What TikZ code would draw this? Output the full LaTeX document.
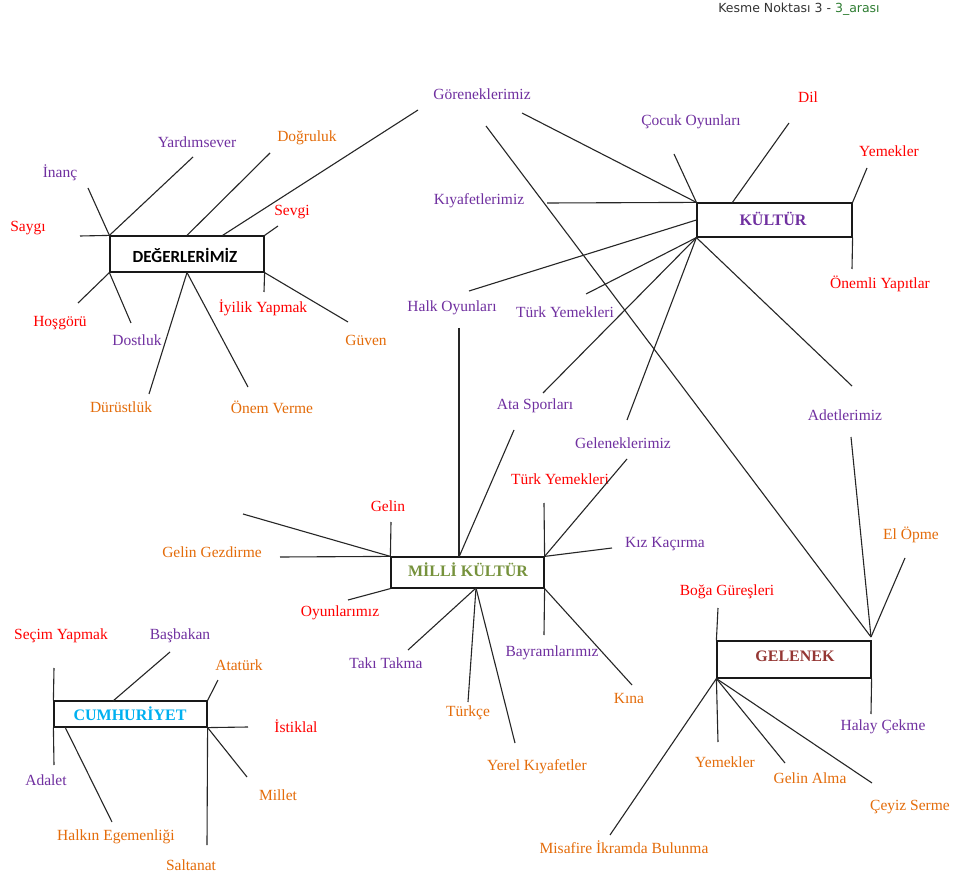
\documentclass[tikz,border=0pt]{standalone}
\usepackage{fontspec}
\setmainfont{Liberation Serif}
\newfontfamily\carl{Carlito}
\newfontfamily\dejav{DejaVu Sans}
\definecolor{cpur}{HTML}{7030A0}
\definecolor{cred}{HTML}{FF0000}
\definecolor{corg}{HTML}{E46C0A}
\definecolor{cgrn}{HTML}{76923C}
\definecolor{ccyan}{HTML}{00B0F0}
\definecolor{cbrn}{HTML}{953734}
\definecolor{chdr}{HTML}{2E7D32}
\tikzset{
  lbl/.style={inner sep=0pt, font=\fontsize{15.5}{17}\selectfont},
  pur/.style={lbl, text=cpur},
  rd/.style={lbl, text=cred},
  org/.style={lbl, text=corg},
  box/.style={draw=black!90, line width=1.2pt, inner sep=0pt},
  ttl/.style={font=\fontsize{16}{18}\selectfont\bfseries},
  ln/.style={line width=1.1pt, draw=black!85},
}
\begin{document}
\begin{tikzpicture}[x=1pt,y=-1pt]
\useasboundingbox (0,0) rectangle (954,877);
\fill[white] (0,0) rectangle (954,877);

% header
\node[inner sep=0pt, font=\dejav\fontsize{12.5}{14}\selectfont, text=black!80] (hdr) at (799,9) {Kesme Noktası 3 - \textcolor{chdr}{3\_arası}};

% ---------------- boxes ----------------
\node[box, minimum width=154pt, minimum height=36pt] (deg) at (187,254) {};
\node[font=\carl\fontsize{17}{19}\selectfont\bfseries, inner sep=0pt] (degt) at (185,255) {DEĞERLERİMİZ};

\node[box, minimum width=155pt, minimum height=34pt] (kul) at (774.5,220) {};
\node[ttl, text=cpur, inner sep=0pt] (kult) at (773,219) {KÜLTÜR};

\node[box, minimum width=153pt, minimum height=31pt] (mk) at (467.5,572.5) {};
\node[ttl, text=cgrn, inner sep=0pt] (mkt) at (468,570) {MİLLİ KÜLTÜR};

\node[box, minimum width=153pt, minimum height=26pt] (cum) at (130.5,714) {};
\node[ttl, text=ccyan, inner sep=0pt] (cumt) at (130,714) {CUMHURİYET};

\node[box, minimum width=154pt, minimum height=37pt] (gel) at (794,659.5) {};
\node[ttl, text=cbrn, inner sep=0pt] (gelt) at (795,656) {GELENEK};

% ---------------- labels ----------------
% Degerlerimiz
\node[rd]  (saygi) at (28,228) {Saygı};
\node[pur] (inanc) at (60,173) {İnanç};
\node[pur] (yard)  at (197,142) {Yardımsever};
\node[org] (dogr)  at (307,138) {Doğruluk};
\node[rd]  (sevgi) at (292,212) {Sevgi};
\node[rd]  (iyil)  at (263,308) {İyilik Yapmak};
\node[org] (guven) at (366,340) {Güven};
\node[rd]  (hosg)  at (60,323) {Hoşgörü};
\node[pur] (dost)  at (137,340) {Dostluk};
\node[org] (durus) at (121,407) {Dürüstlük};
\node[org] (onem)  at (272,407) {Önem Verme};
% Kultur
\node[pur] (gore)  at (482,94) {Göreneklerimiz};
\node[pur] (cocuk) at (691,122) {Çocuk Oyunları};
\node[rd]  (dil)   at (808,97) {Dil};
\node[rd]  (yemek) at (889,151) {Yemekler};
\node[rd]  (onemli) at (880,284) {Önemli Yapıtlar};
\node[pur] (kiyaf) at (479,201) {Kıyafetlerimiz};
\node[pur] (halk)  at (452,308) {Halk Oyunları};
\node[pur] (turky) at (565,312) {Türk Yemekleri};
\node[pur] (ata)   at (535,406) {Ata Sporları};
\node[pur] (gelen) at (623,443) {Geleneklerimiz};
\node[pur] (adet)  at (845,415) {Adetlerimiz};
% Milli Kultur
\node[rd]  (gelin) at (388,506) {Gelin};
\node[org] (gezd)  at (212,552) {Gelin Gezdirme};
\node[rd]  (oyun)  at (340,613) {Oyunlarımız};
\node[rd]  (turkr) at (560,479) {Türk Yemekleri};
\node[pur] (kiz)   at (665,544) {Kız Kaçırma};
\node[pur] (bayr)  at (552,653) {Bayramlarımız};
\node[org] (kina)  at (629,698) {Kına};
\node[pur] (taki)  at (386,663) {Takı Takma};
\node[org] (turkce) at (468,713) {Türkçe};
\node[org] (yerel) at (537,767) {Yerel Kıyafetler};
% Cumhuriyet
\node[rd]  (secim) at (61,636) {Seçim Yapmak};
\node[pur] (basb)  at (180,636) {Başbakan};
\node[org] (atat)  at (239,665) {Atatürk};
\node[rd]  (istik) at (296,726) {İstiklal};
\node[org] (millet) at (278,795) {Millet};
\node[org] (salt)  at (191,865) {Saltanat};
\node[org] (halkin) at (116,837) {Halkın Egemenliği};
\node[pur] (adalet) at (46,780) {Adalet};
% Gelenek
\node[rd]  (boga)  at (727,592) {Boğa Güreşleri};
\node[org] (yemg)  at (725,762) {Yemekler};
\node[org] (gelina) at (810,778) {Gelin Alma};
\node[org] (ceyiz) at (910,807) {Çeyiz Serme};
\node[org] (misaf) at (624,847) {Misafire İkramda Bulunma};
\node[pur] (halay) at (883,727) {Halay Çekme};
\node[org] (elop)  at (911,535) {El Öpme};

% ---------------- connector ends ----------------
\coordinate (cSaygi) at (80,236);
\coordinate (cInanc) at (88,188);
\coordinate (cYard) at (193,157);
\coordinate (cDogr) at (270,153);
\coordinate (cGoreDeg) at (418,110);
\coordinate (cSevgi) at (278,226);
\coordinate (cIyil) at (264,292);
\coordinate (cGuven) at (348,322);
\coordinate (cHosg) at (78,303);
\coordinate (cDost) at (131,323);
\coordinate (cDurus) at (149,394);
\coordinate (cOnem) at (248,387);

\coordinate (cGoreKul) at (522,113);
\coordinate (cGoreGel) at (486,126);
\coordinate (cCocuk) at (674,154);
\coordinate (cDil) at (789,123);
\coordinate (pDil) at (732,203);
\coordinate (cYemek) at (867,168);
\coordinate (cOnemli) at (852,269);
\coordinate (cKiyaf) at (547,203);
\coordinate (cHalk) at (469,291);
\coordinate (cTurkY) at (586,294);
\coordinate (cAtaTop) at (543,393);
\coordinate (cGelenTop) at (627,420);
\coordinate (cAdet) at (852,386);

\coordinate (cGelin) at (391,522);
\coordinate (cGezd) at (280,557);
\coordinate (cFree) at (243,514);
\coordinate (cOyun) at (348,600);
\coordinate (cHalkBot) at (459,328);
\coordinate (pHalk) at (459,557);
\coordinate (cAtaBot) at (514,430);
\coordinate (cTurkR) at (544,503);
\coordinate (cGelenBot) at (627,459);
\coordinate (cKiz) at (612,548);
\coordinate (cBayr) at (544,635);
\coordinate (cKina) at (632,685);
\coordinate (pBot) at (476,588);
\coordinate (cTaki) at (408,650);
\coordinate (cTurkce) at (468,702);
\coordinate (cYerel) at (515,743);

\coordinate (cSecim) at (54,668);
\coordinate (cAdalet) at (54,765);
\coordinate (cBasb) at (170,652);
\coordinate (pBasb) at (113,701);
\coordinate (cAtat) at (218,680);
\coordinate (cIstik) at (248,727);
\coordinate (cMillet) at (247,777);
\coordinate (cSalt) at (207,845);
\coordinate (pHalkin) at (65,727);
\coordinate (cHalkin) at (112,822);

\coordinate (cBoga) at (718,608);
\coordinate (cYemG) at (718,742);
\coordinate (cGelinA) at (785,763);
\coordinate (cCeyiz) at (872,783);
\coordinate (cMisaf) at (610,835);
\coordinate (cHalay) at (871,714);
\coordinate (pGelTop) at (871,637);
\coordinate (cElop) at (905,558);
\coordinate (cAdetBot) at (851,437);

% ---------------- connectors ----------------
% Degerlerimiz
\draw[ln] (deg.north west) -- (cSaygi);
\draw[ln] (cInanc) -- (deg.north west);
\draw[ln] (cYard) -- (deg.north west);
\draw[ln] (cDogr) -- (deg.north);
\draw[ln] (cGoreDeg) -- ([xshift=-42pt]deg.north east);
\draw[ln] (cSevgi) -- (deg.north east);
\draw[ln] (deg.south east) -- (cIyil);
\draw[ln] (deg.south east) -- (cGuven);
\draw[ln] (cHosg) -- (deg.south west);
\draw[ln] (deg.south west) -- (cDost);
\draw[ln] (deg.south) -- (cDurus);
\draw[ln] (deg.south) -- (cOnem);
% Kultur
\draw[ln] (cGoreKul) -- (kul.north west);
\draw[ln] (cCocuk) -- (kul.north west);
\draw[ln] (cKiyaf) -- (kul.north west);
\draw[ln] (cDil) -- (pDil);
\draw[ln] (cYemek) -- (kul.north east);
\draw[ln] (kul.south east) -- (cOnemli);
\draw[ln] (cHalk) -- (kul.west);
\draw[ln] (cTurkY) -- (kul.south west);
\draw[ln] (kul.south west) -- (cAtaTop);
\draw[ln] (kul.south west) -- (cGelenTop);
\draw[ln] (kul.south west) -- (cAdet);
% Milli Kultur
\draw[ln] (cGelin) -- (mk.north west);
\draw[ln] (cGezd) -- (mk.north west);
\draw[ln] (cFree) -- (mk.north west);
\draw[ln] (cOyun) -- (mk.south west);
\draw[ln] (cHalkBot) -- (pHalk);
\draw[ln] (cAtaBot) -- (pHalk);
\draw[ln] (cTurkR) -- (mk.north east);
\draw[ln] (cGelenBot) -- (mk.north east);
\draw[ln] (cKiz) -- (mk.north east);
\draw[ln] (mk.south east) -- (cBayr);
\draw[ln] (mk.south east) -- (cKina);
\draw[ln] (pBot) -- (cTaki);
\draw[ln] (pBot) -- (cTurkce);
\draw[ln] (pBot) -- (cYerel);
% Cumhuriyet
\draw[ln] (cSecim) -- (cum.north west);
\draw[ln] (cum.south west) -- (cAdalet);
\draw[ln] (cBasb) -- (pBasb);
\draw[ln] (cAtat) -- (cum.north east);
\draw[ln] (cum.south east) -- (cIstik);
\draw[ln] (cum.south east) -- (cMillet);
\draw[ln] (cum.south east) -- (cSalt);
\draw[ln] (pHalkin) -- (cHalkin);
% Gelenek
\draw[ln] (cBoga) -- (gel.north west);
\draw[ln] (gel.south west) -- (cYemG);
\draw[ln] (gel.south west) -- (cGelinA);
\draw[ln] (gel.south west) -- (cCeyiz);
\draw[ln] (gel.south west) -- (cMisaf);
\draw[ln] (gel.south east) -- (cHalay);
\draw[ln] (cElop) -- (pGelTop);
\draw[ln] (cAdetBot) -- (pGelTop);
\draw[ln] (cGoreGel) -- (pGelTop);
\end{tikzpicture}
\end{document}
